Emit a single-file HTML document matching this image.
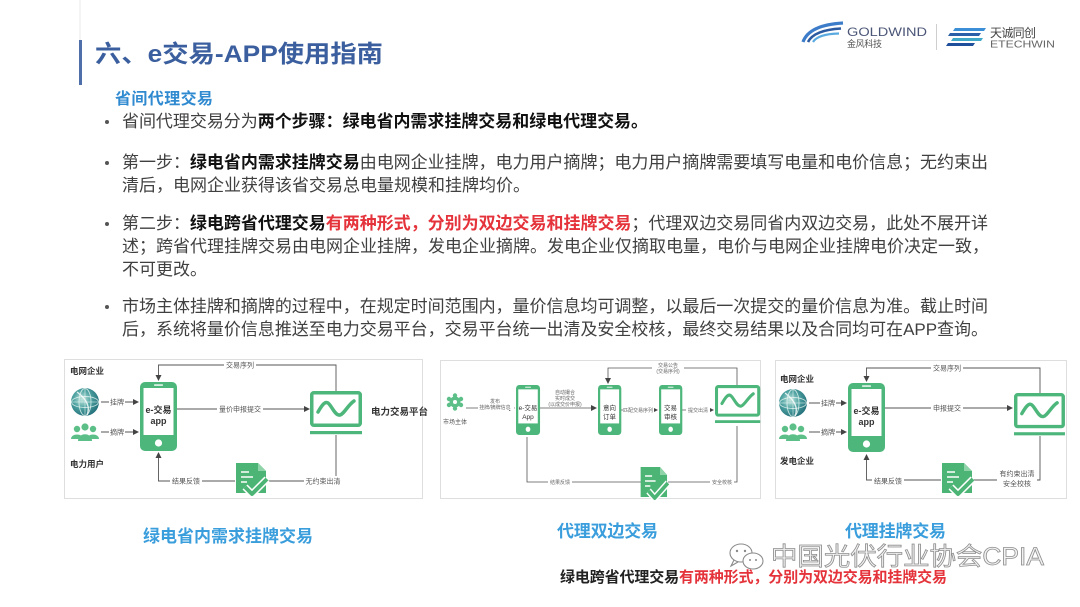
<!DOCTYPE html>
<html><head><meta charset="utf-8">
<style>
html,body{margin:0;padding:0;background:#fff;}
svg{display:block;font-family:"Liberation Sans","Noto Sans CJK SC",sans-serif;}
</style></head><body>
<svg width="1080" height="607" viewBox="0 0 1080 607" xmlns="http://www.w3.org/2000/svg">
<defs>
<marker id="ah" markerWidth="6" markerHeight="6" refX="5" refY="3" orient="auto" markerUnits="userSpaceOnUse"><path d="M0,0 L6,3 L0,6 z" fill="#444"/></marker>
<radialGradient id="gg" cx="0.4" cy="0.4" r="0.7"><stop offset="0" stop-color="#c4e6df"/><stop offset="0.45" stop-color="#4fa3a2"/><stop offset="1" stop-color="#1b6673"/></radialGradient>
<g id="phone">
<rect width="37" height="69" rx="5" fill="#4db67b"/>
<rect x="3.5" y="6" width="30" height="47" fill="#fff"/>
<circle cx="18.5" cy="61" r="3.6" fill="#fff"/>
<rect x="14" y="2.4" width="9" height="1.3" rx=".6" fill="#fff"/>
</g>
<g id="monitor">
<rect x="1.75" y="1.75" width="48.5" height="32.5" rx="2" fill="none" stroke="#4db67b" stroke-width="3.5"/>
<path d="M8,21 C12,14 15,10 18,12 C22,15 25,25 30,24 C34,23 38,14 44,10" fill="none" stroke="#4db67b" stroke-width="3.5" stroke-linecap="round"/>
<rect x="0" y="40" width="52" height="3.2" fill="#4db67b"/>
</g>
<g id="globe">
<circle r="14" fill="url(#gg)"/>
<ellipse rx="6" ry="13.5" fill="none" stroke="#e8f6f3" stroke-width="0.9" opacity=".8"/>
<ellipse rx="13.5" ry="5.5" fill="none" stroke="#e8f6f3" stroke-width="0.9" opacity=".8"/>
<path d="M-13.5,0 H13.5 M0,-13.5 V13.5" stroke="#e8f6f3" stroke-width="0.8" opacity=".7"/>
<path d="M-8,-10 C0,-4 6,4 2,13" fill="none" stroke="#fff" stroke-width="1.4" opacity=".8"/>
</g>
<g id="people" fill="#5cbf88">
<circle cx="-8" cy="-4" r="3.2"/><circle cx="8" cy="-4" r="3.2"/><circle cx="0" cy="-6" r="3.6"/>
<path d="M-14,6 C-14,0 -2,0 -2,6 Z"/><path d="M2,6 C2,0 14,0 14,6 Z"/><path d="M-7,8 C-7,-1 7,-1 7,8 Z"/>
</g>
<g id="doc">
<path d="M3,0 H25 L33,8 V30 H3 Z" fill="#4cb575"/>
<path d="M25,0 V8 H33" fill="#8fd3a8"/>
<path d="M8,9 H16 M8,14 H20 M8,19 H14" stroke="#fff" stroke-width="1.6"/>
<path d="M12,24 L19,31 L34,16" fill="none" stroke="#fff" stroke-width="7" stroke-linejoin="round"/>
<path d="M12,24 L19,31 L34,16" fill="none" stroke="#4cb575" stroke-width="4" stroke-linejoin="round"/>
</g>
</defs>

<!-- header -->
<rect x="79.5" y="0" width="1" height="40" fill="#e8e8e8"/>
<rect x="79" y="40" width="3" height="45" fill="#4f6faa"/>
<text x="95" y="62" font-size="24" font-weight="bold" fill="#3b5f9e" textLength="288" lengthAdjust="spacingAndGlyphs">六、e交易-APP使用指南</text>

<!-- logos -->
<path d="M803,42 Q809,25 843,23" fill="none" stroke="#3d7cc9" stroke-width="3.2"/>
<path d="M808,42 Q814,30 841,28.5" fill="none" stroke="#2c5aa0" stroke-width="2.6"/>
<path d="M813,42 Q818,34 839,33.5" fill="none" stroke="#5aaae0" stroke-width="2.2"/>
<text x="847" y="36" font-size="12" fill="#4b5677" textLength="80" lengthAdjust="spacingAndGlyphs">GOLDWIND</text>
<text x="847" y="47" font-size="9" fill="#555" textLength="35">金风科技</text>
<rect x="936" y="24" width="1" height="26" fill="#cfcfcf"/>
<polygon points="955,28 986,28 984,31 953,31" fill="#3a8fd6"/>
<polygon points="950,33 981,33 979,36 948,36" fill="#2b5fa8"/>
<polygon points="953,38 983,38 981,41 951,41" fill="#3fa8c8"/>
<polygon points="948,43 975,43 973,46 946,46" fill="#1f4f9a"/>
<text x="990" y="37" font-size="12" fill="#444" textLength="46">天诚同创</text>
<text x="990" y="47.5" font-size="10" fill="#666" textLength="65" lengthAdjust="spacingAndGlyphs">ETECHWIN</text>

<!-- subtitle & bullets -->
<text x="115" y="104" font-size="16" font-weight="bold" fill="#2f8ad0" textLength="98">省间代理交易</text>
<g fill="#555"><circle cx="107" cy="122" r="2"/><circle cx="107" cy="163" r="2"/><circle cx="107" cy="224" r="2"/><circle cx="107" cy="307" r="2"/></g>
<g font-size="17" fill="#404040">
<text x="122" y="127" textLength="526" lengthAdjust="spacing">省间代理交易分为<tspan font-weight="bold" fill="#111">两个步骤：绿电省内需求挂牌交易和绿电代理交易。</tspan></text>
<text x="122" y="168" textLength="866" lengthAdjust="spacing">第一步：<tspan font-weight="bold" fill="#111">绿电省内需求挂牌交易</tspan>由电网企业挂牌，电力用户摘牌；电力用户摘牌需要填写电量和电价信息；无约束出</text>
<text x="122" y="191" textLength="408" lengthAdjust="spacing">清后，电网企业获得该省交易总电量规模和挂牌均价。</text>
<text x="122" y="229" textLength="866" lengthAdjust="spacing">第二步：<tspan font-weight="bold" fill="#111">绿电跨省代理交易</tspan><tspan font-weight="bold" fill="#e5333b">有两种形式，分别为双边交易和挂牌交易</tspan>；代理双边交易同省内双边交易，此处不展开详</text>
<text x="122" y="252" textLength="867" lengthAdjust="spacing">述；跨省代理挂牌交易由电网企业挂牌，发电企业摘牌。发电企业仅摘取电量，电价与电网企业挂牌电价决定一致，</text>
<text x="122" y="275" textLength="85" lengthAdjust="spacing">不可更改。</text>
<text x="122" y="312" textLength="866" lengthAdjust="spacing">市场主体挂牌和摘牌的过程中，在规定时间范围内，量价信息均可调整，以最后一次提交的量价信息为准。截止时间</text>
<text x="122" y="335" textLength="866" lengthAdjust="spacing">后，系统将量价信息推送至电力交易平台，交易平台统一出清及安全校核，最终交易结果以及合同均可在APP查询。</text>
</g>

<!-- panels -->
<g fill="#fff" stroke="#dedede" stroke-width="1">
<rect x="64.5" y="359.5" width="358" height="139"/>
<rect x="440.5" y="360.5" width="320" height="138"/>
<rect x="775.5" y="360.5" width="291" height="138"/>
</g>

<!-- Panel 1 -->
<g font-size="8.5" font-weight="bold" fill="#333">
<text x="70" y="374">电网企业</text>
<text x="70" y="467">电力用户</text>
<text x="371" y="415" font-size="9.5">电力交易平台</text>
</g>
<use href="#globe" x="85" y="402"/>
<use href="#people" x="85" y="433"/>
<g stroke="#555" stroke-width="0.9" fill="none">
<line x1="101" y1="402" x2="138" y2="402" marker-end="url(#ah)"/>
<line x1="101" y1="432" x2="138" y2="432" marker-end="url(#ah)"/>
<polyline points="336,391 336,365 158.5,365 158.5,380" marker-end="url(#ah)"/>
<line x1="177" y1="409" x2="309" y2="409" marker-end="url(#ah)"/>
<polyline points="336,435 336,481 268,481"/>
<polyline points="235,481 158.5,481 158.5,453" marker-end="url(#ah)"/>
</g>
<use href="#phone" x="140" y="382"/>
<text x="158.5" y="413" font-size="9" font-weight="bold" fill="#333" text-anchor="middle">e-交易</text>
<text x="158.5" y="424" font-size="9" font-weight="bold" fill="#333" text-anchor="middle">app</text>
<use href="#monitor" x="310" y="391"/>
<use href="#doc" x="233" y="463"/>
<g fill="#fff">
<rect x="109" y="397" width="16" height="9"/><rect x="109" y="427" width="16" height="9"/>
<rect x="224" y="360" width="32" height="9"/><rect x="217" y="404" width="46" height="9"/>
<rect x="170" y="476" width="32" height="9"/><rect x="304" y="476" width="39" height="9"/>
</g>
<g font-size="7" fill="#555" text-anchor="middle">
<text x="117" y="404.5">挂牌</text><text x="117" y="434.5">摘牌</text>
<text x="240" y="367.5">交易序列</text><text x="240" y="411.5">量价申报提交</text>
<text x="186" y="483.5">结果反馈</text><text x="323" y="483.5">无约束出清</text>
</g>

<!-- Panel 2 -->
<g fill="#5cbf88">
<circle cx="455" cy="402" r="5.5"/>
<circle cx="455" cy="395.5" r="2.2"/><circle cx="461" cy="399" r="2.2"/><circle cx="461" cy="405" r="2.2"/><circle cx="455" cy="408.5" r="2.2"/><circle cx="449" cy="405" r="2.2"/><circle cx="449" cy="399" r="2.2"/>
</g>
<circle cx="455" cy="402" r="2" fill="#fff"/>
<text x="455" y="424" font-size="6" fill="#555" text-anchor="middle">市场主体</text>
<g stroke="#555" stroke-width="0.8" fill="none">
<line x1="466" y1="408" x2="514" y2="408" marker-end="url(#ah)"/>
<line x1="540" y1="408" x2="596" y2="408" marker-end="url(#ah)"/>
<line x1="621" y1="410" x2="657" y2="410" marker-end="url(#ah)"/>
<line x1="682" y1="410" x2="713" y2="410" marker-end="url(#ah)"/>
<polyline points="737,385 737,368 608,368 608,383" marker-end="url(#ah)"/>
<polyline points="737,426 737,482 668,482"/>
<polyline points="641,482 527,482 527,437"/>
</g>
<use href="#phone" transform="translate(516,385) scale(0.65,0.725)"/>
<use href="#phone" transform="translate(598,385) scale(0.63,0.725)"/>
<use href="#phone" transform="translate(659,385) scale(0.63,0.725)"/>
<use href="#monitor" transform="translate(715,385) scale(0.87,0.88)"/>
<use href="#doc" transform="translate(638,467) scale(0.88,1)"/>
<g font-size="6.5" fill="#333" text-anchor="middle">
<text x="528" y="410">e-交易</text><text x="528" y="419">App</text>
<text x="609.5" y="410">意向</text><text x="609.5" y="419">订单</text>
<text x="670.5" y="410">交易</text><text x="670.5" y="419">审核</text>
</g>
<g fill="#fff">
<rect x="478" y="398" width="36" height="12"/><rect x="545" y="389" width="40" height="18"/>
<rect x="623" y="406" width="31" height="8"/><rect x="686" y="406" width="24" height="8"/>
<rect x="652" y="362" width="32" height="13"/><rect x="548" y="478" width="24" height="8"/><rect x="710" y="478" width="24" height="8"/>
</g>
<g font-size="5" fill="#666" text-anchor="middle">
<text x="495" y="403">发布</text><text x="495" y="409">挂牌/摘牌信息</text>
<text x="565" y="394">自动撮合</text><text x="565" y="400">实时成交</text><text x="565" y="406">(以成交价申报)</text>
<text x="638" y="412">匹配交易序列</text><text x="698" y="412">提交出清</text>
<text x="668" y="367">交易公告</text><text x="668" y="373">(交易序列)</text>
<text x="560" y="484">结果反馈</text><text x="722" y="484">安全校核</text>
</g>

<!-- Panel 3 -->
<g font-size="8.5" font-weight="bold" fill="#333">
<text x="780" y="382">电网企业</text>
<text x="780" y="464">发电企业</text>
</g>
<use href="#globe" x="793" y="403"/>
<use href="#people" x="793" y="433"/>
<g stroke="#555" stroke-width="0.9" fill="none">
<line x1="809" y1="403" x2="846" y2="403" marker-end="url(#ah)"/>
<line x1="809" y1="432" x2="846" y2="432" marker-end="url(#ah)"/>
<polyline points="1040,393 1040,368 866.5,368 866.5,381" marker-end="url(#ah)"/>
<line x1="885" y1="408" x2="1012" y2="408" marker-end="url(#ah)"/>
<polyline points="1040,436 1040,480 973,480"/>
<polyline points="941,480 866.5,480 866.5,455" marker-end="url(#ah)"/>
</g>
<use href="#phone" x="848" y="383"/>
<text x="866.5" y="414" font-size="9" font-weight="bold" fill="#333" text-anchor="middle">e-交易</text>
<text x="866.5" y="425" font-size="9" font-weight="bold" fill="#333" text-anchor="middle">app</text>
<use href="#monitor" transform="translate(1014,393) scale(0.98,0.98)"/>
<use href="#doc" x="939" y="463"/>
<g fill="#fff">
<rect x="820" y="398" width="16" height="9"/><rect x="820" y="427" width="16" height="9"/>
<rect x="931" y="363" width="32" height="9"/><rect x="931" y="403" width="32" height="9"/>
<rect x="872" y="476" width="32" height="9"/><rect x="997" y="469" width="40" height="19"/>
</g>
<g font-size="7" fill="#555" text-anchor="middle">
<text x="828" y="405.5">挂牌</text><text x="828" y="434.5">摘牌</text>
<text x="947" y="370.5">交易序列</text><text x="947" y="410.5">申报提交</text>
<text x="888" y="483.5">结果反馈</text>
<text x="1017" y="476">有约束出清</text><text x="1017" y="486">安全校核</text>
</g>

<!-- captions -->
<g font-weight="bold" fill="#3a9ddc" font-size="17">
<text x="143" y="542" textLength="170">绿电省内需求挂牌交易</text>
<text x="557" y="537" textLength="101">代理双边交易</text>
<text x="845" y="537" textLength="101">代理挂牌交易</text>
</g>

<!-- watermark -->
<g fill="none" stroke="#8a8a8a" stroke-width="1.1">
<ellipse cx="741" cy="553" rx="11" ry="9"/>
<ellipse cx="753" cy="561" rx="10" ry="8" fill="#fff"/>
<path d="M734,560 L731,566 L738,562"/>
</g>
<g fill="#8a8a8a"><circle cx="737" cy="551" r="1.2"/><circle cx="745" cy="551" r="1.2"/><circle cx="750" cy="560" r="1"/><circle cx="756" cy="560" r="1"/></g>
<text x="771" y="565" font-size="25" fill="#f2f2f2" stroke="#8e8e8e" stroke-width="0.8" textLength="273" lengthAdjust="spacingAndGlyphs">中国光伏行业协会CPIA</text>

<text x="560" y="582" font-size="15" font-weight="bold" fill="#222" textLength="387">绿电跨省代理交易<tspan fill="#e5333b">有两种形式，分别为双边交易和挂牌交易</tspan></text>
</svg>
</body></html>
